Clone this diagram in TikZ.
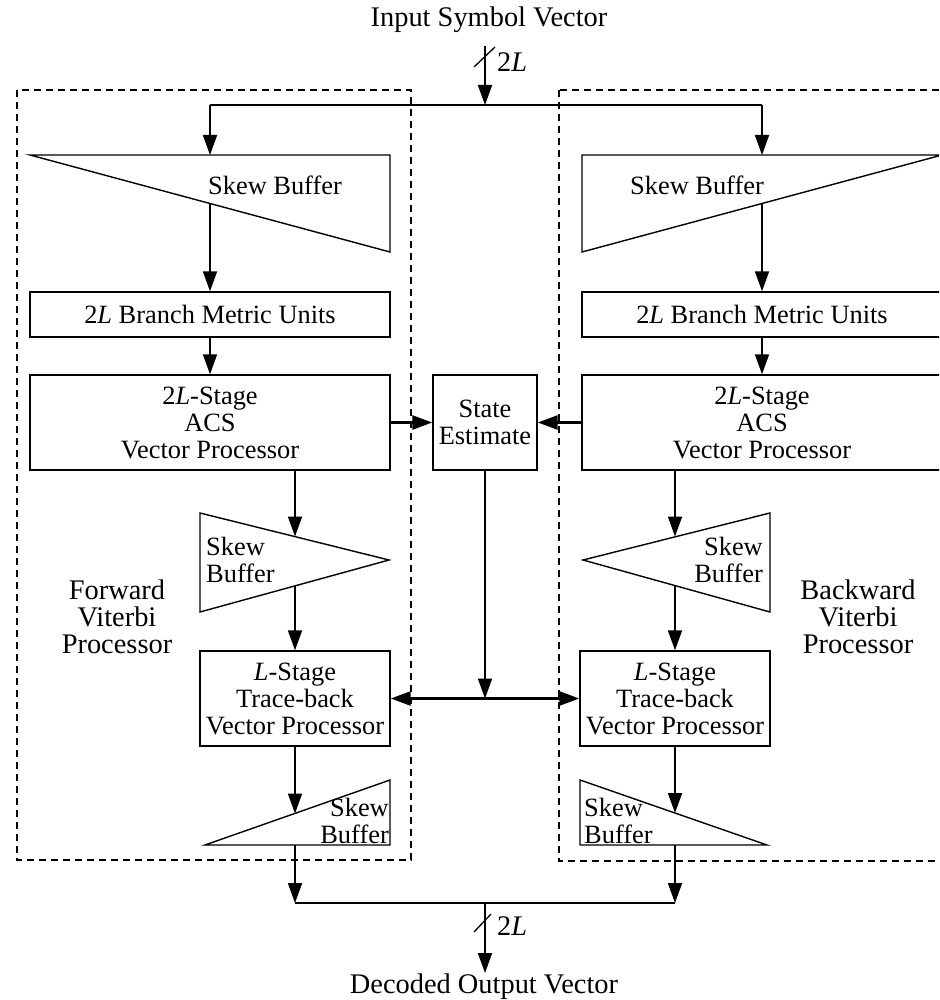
\documentclass[tikz,border=0pt]{standalone}
\usepackage{fontspec}
\setmainfont{Liberation Serif}
\usetikzlibrary{arrows.meta}
\begin{document}
\begin{tikzpicture}[x=1pt,y=-1pt,
  every node/.style={font=\fontsize{26.4}{27}\selectfont},
  big/.style={font=\fontsize{28.4}{27}\selectfont},
  blk/.style={draw, line width=1.4pt, inner sep=0pt, align=center, fill=white},
  tri/.style={draw, line width=1.4pt, line join=miter, fill=white},
  tip/.style={-{Triangle[length=20pt,width=14pt]}},
  arr/.style={line width=1.8pt, tip},
  thickarr/.style={line width=2.6pt, tip},
  wire/.style={line width=1.8pt},
  frame/.style={draw, line width=1.3pt, dash pattern=on 7pt off 5pt},
  lbl/.style={inner sep=0pt, align=center},
]
\useasboundingbox (0,0) rectangle (939,1000);
\clip (0,0) rectangle (939,1000);

% processor frames
\draw[frame] (17,90) rectangle (411,860);
\draw[frame] (559,90) rectangle (950,861);

% title texts
\node[lbl, big] (input) at (489,20) {Input Symbol Vector};
\node[lbl, big] (output) at (484,987) {Decoded Output Vector};
\node[lbl, big] (fwd) at (117,617) {Forward\\Viterbi\\Processor};
\node[lbl, big] (bwd) at (858,617) {Backward\\Viterbi\\Processor};

% input skew buffers (wide wedges)
\draw[tri] (30,155) -- (390,155) -- (390,252) -- cycle;
\draw[tri] (942,155) -- (582,155) -- (582,252) -- cycle;
\coordinate (sbAin) at (210,155);  \coordinate (sbAout) at (210,203.5);
\coordinate (sbBin) at (762,155);  \coordinate (sbBout) at (762,203.5);
\node[lbl] (sbAtxt) at (275,185) {Skew Buffer};
\node[lbl] (sbBtxt) at (697,185) {Skew Buffer};

% branch metric units
\node[blk, minimum width=360pt, minimum height=45pt] (bmuL) at (210,314.5) {2\textit{L} Branch Metric Units};
\node[blk, minimum width=360pt, minimum height=45pt] (bmuR) at (762,314.5) {2\textit{L} Branch Metric Units};

% ACS processors
\node[blk, minimum width=360pt, minimum height=95pt] (acsL) at (210,422.5) {2\textit{L}-Stage\\ACS\\Vector Processor};
\node[blk, minimum width=360pt, minimum height=95pt] (acsR) at (762,422.5) {2\textit{L}-Stage\\ACS\\Vector Processor};

% state estimate
\node[blk, minimum width=104pt, minimum height=95pt] (se) at (485,422.5) {State\\Estimate};

% middle skew buffers
\draw[tri] (200,513) -- (389,560) -- (200,612) -- cycle;
\draw[tri] (770,513) -- (583,560) -- (770,612) -- cycle;
\coordinate (sbCin) at (295,536.5); \coordinate (sbCout) at (295,586);
\coordinate (sbDin) at (675,536.5); \coordinate (sbDout) at (675,586);
\node[lbl, anchor=west, align=left] (sbCtxt) at (206,560) {Skew\\Buffer};
\node[lbl, anchor=east, align=right] (sbDtxt) at (763,560) {Skew\\Buffer};

% trace-back processors
\node[blk, minimum width=190pt, minimum height=95pt] (tbL) at (295,698.5) {\textit{L}-Stage\\Trace-back\\Vector Processor};
\node[blk, minimum width=190pt, minimum height=95pt] (tbR) at (675,698.5) {\textit{L}-Stage\\Trace-back\\Vector Processor};

% output skew buffers
\draw[tri] (205,845) -- (390,780) -- (390,845) -- cycle;
\draw[tri] (580,780) -- (767,845) -- (580,845) -- cycle;
\coordinate (sbEin) at (295,813.5); \coordinate (sbEout) at (295,845);
\coordinate (sbFin) at (675,813);   \coordinate (sbFout) at (675,845);
\node[lbl, anchor=east, align=right] (sbEtxt) at (389,821) {Skew\\Buffer};
\node[lbl, anchor=west, align=left] (sbFtxt) at (584,821) {Skew\\Buffer};

% input distribution
\coordinate (inTop) at (485,46);
\coordinate (split) at (485,105);
\coordinate (busL) at (210,105);
\coordinate (busR) at (762,105);
\draw[arr] (inTop) -- (split);
\draw[wire] (busL) -- (busR);
\draw[arr] (busL) -- (sbAin);
\draw[arr] (busR) -- (sbBin);
\draw[line width=1.3pt] (474,67) -- (495,47);
\node[lbl, big, anchor=west] (inw) at (497,62) {2\textit{L}};

% forward chain
\draw[arr] (sbAout) -- (bmuL.north);
\draw[arr] (bmuL.south) -- (acsL.north);
\draw[arr] (acsL.south -| sbCin) -- (sbCin);
\draw[arr] (sbCout) -- (tbL.north);
\draw[arr] (tbL.south) -- (sbEin);

% backward chain
\draw[arr] (sbBout) -- (bmuR.north);
\draw[arr] (bmuR.south) -- (acsR.north);
\draw[arr] (acsR.south -| sbDin) -- (sbDin);
\draw[arr] (sbDout) -- (tbR.north);
\draw[arr] (tbR.south) -- (sbFin);

% state estimate links
\draw[thickarr] (acsL.east) -- (se.west);
\draw[thickarr] (acsR.west) -- (se.east);
\coordinate (junc) at (485,698.5);
\draw[arr] (se.south) -- (junc);
\draw[thickarr] (junc) -- (tbL.east);
\draw[thickarr] (junc) -- (tbR.west);

% output merge
\coordinate (mergeL) at (295,903);
\coordinate (mergeR) at (675,903);
\coordinate (mergeC) at (485,903);
\coordinate (outTip) at (485,973);
\draw[arr] (sbEout) -- (mergeL);
\draw[arr] (sbFout) -- (mergeR);
\draw[wire] (mergeL) -- (mergeR);
\draw[arr] (mergeC) -- (outTip);
\draw[line width=1.3pt] (474,932) -- (491,914);
\node[lbl, big, anchor=west] (outw) at (497,926) {2\textit{L}};
\end{tikzpicture}
\end{document}
